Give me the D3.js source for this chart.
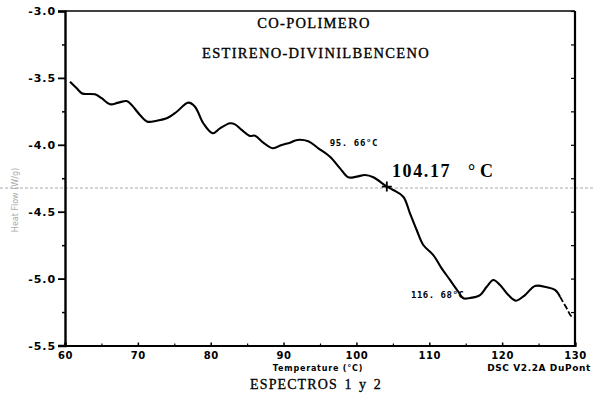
<!DOCTYPE html>
<html>
<head>
<meta charset="utf-8">
<script src="https://cdn.jsdelivr.net/npm/d3@7"></script>
<style>
  html, body { margin: 0; padding: 0; background: #fff; }
  svg { display: block; }
  .tick text { font-family: "DejaVu Sans", sans-serif; font-weight: bold; }
</style>
</head>
<body>
<svg id="chart" width="595" height="393"></svg>
<script>
// DSC thermogram: styrene–divinylbenzene copolymer
const temperature = [60.69, 61.61, 62.29, 62.75, 64.12, 65.04, 66.18, 67.32, 68.47, 69.15,
  70.29, 71.30, 72.59, 73.96, 75.33, 76.92, 77.84, 78.98, 80.27, 81.27,
  82.65, 83.33, 84.25, 85.39, 86.08, 87.22, 88.51, 89.74, 90.88, 91.88,
  93.39, 94.77, 96.37, 97.75, 98.88, 100.04, 101.18, 102.32, 104.17, 105.06,
  106.43, 107.35, 108.27, 109.18, 110.55, 111.70, 112.84, 113.98, 114.67, 115.59,
  116.96, 117.88, 118.79, 119.71, 120.85, 121.90, 123.14, 124.51, 126.12, 127.25,
  127.94, 128.86, 129.55, 130.0];
const heatFlow = [-3.528, -3.578, -3.615, -3.620, -3.623, -3.652, -3.697, -3.685, -3.673, -3.703,
  -3.777, -3.827, -3.820, -3.802, -3.753, -3.685, -3.715, -3.839, -3.914, -3.877,
  -3.839, -3.847, -3.889, -3.934, -3.932, -3.984, -4.026, -4.001, -3.984, -3.964,
  -3.974, -4.026, -4.089, -4.176, -4.243, -4.238, -4.226, -4.243, -4.312, -4.338,
  -4.388, -4.512, -4.637, -4.749, -4.824, -4.923, -5.010, -5.098, -5.147, -5.145,
  -5.123, -5.061, -5.010, -5.048, -5.123, -5.165, -5.123, -5.055, -5.065, -5.085,
  -5.135, -5.222, -5.285, -5.289];
// trace is broken (dashed) past this temperature
const dashedFrom = 127.94;

const yTicks = [-3.0, -3.5, -4.0, -4.5, -5.0, -5.5];
const yMinorTicks = [-3.25, -3.75, -4.25, -4.75, -5.25];
const xTicks = [60, 70, 80, 90, 100, 110, 120, 130];
const xMinorTicks = [65, 75, 85, 95, 105, 115, 125];

// glass transition marker and onset/end labels
const tgTemp = 104.17, tgFlow = -4.312;
const onsetTemp = 95.66, endTemp = 116.68;

const svg = d3.select("#chart");
const x = d3.scaleLinear().domain([60, 130]).range([65, 575]);
const y = d3.scaleLinear().domain([-5.5, -3.0]).range([345.5, 11]);

// faint scan rule through the transition point
svg.append("line")
  .attr("x1", 0).attr("x2", 595)
  .attr("y1", y(tgFlow) + 1.5).attr("y2", y(tgFlow) + 1.5)
  .attr("stroke", "#aaa").attr("stroke-width", 1)
  .attr("stroke-dasharray", "3,2");

// frame
svg.append("line").attr("x1", x(60)).attr("x2", x(130)).attr("y1", y(-3)).attr("y2", y(-3))
  .attr("stroke", "#000").attr("stroke-width", 1.6);
svg.append("line").attr("x1", x(130)).attr("x2", x(130)).attr("y1", y(-3)).attr("y2", y(-5.5))
  .attr("stroke", "#000").attr("stroke-width", 2.2);

// left axis
const yAxis = d3.axisLeft(y).tickValues(yTicks).tickSize(7).tickPadding(2)
  .tickFormat(d3.format(".1f"));
const gy = svg.append("g").attr("transform", `translate(${x(60)},0)`).call(yAxis);
gy.select(".domain").attr("stroke-width", 2.4);
gy.selectAll(".tick line").attr("stroke-width", 1.8);
gy.selectAll(".tick text").attr("font-size", 11).attr("letter-spacing", "0.9px")
  .text(d => d3.format(".1f")(d).replace("−", "-"));

const gyMinor = svg.append("g").attr("transform", `translate(${x(60)},0)`)
  .call(d3.axisLeft(y).tickValues(yMinorTicks).tickSize(3).tickFormat(""));
gyMinor.select(".domain").remove();
gyMinor.selectAll(".tick line").attr("stroke-width", 1.5);

// right axis inner ticks
const gr = svg.append("g").attr("transform", `translate(${x(130)},0)`)
  .call(d3.axisRight(y).tickValues(yTicks.concat(yMinorTicks)).tickSize(-4).tickFormat(""));
gr.select(".domain").remove();
gr.selectAll(".tick line").attr("stroke-width", 1.2);

// bottom axis
const xAxis = d3.axisBottom(x).tickValues(xTicks).tickSize(-3).tickPadding(6);
const gx = svg.append("g").attr("transform", `translate(0,${y(-5.5)})`).call(xAxis);
gx.select(".domain").attr("stroke-width", 2.2);
gx.selectAll(".tick line").attr("stroke-width", 1.5);
gx.selectAll(".tick text").attr("font-size", 10).attr("letter-spacing", "0.6px");
const gxMinor = svg.append("g").attr("transform", `translate(0,${y(-5.5)})`)
  .call(d3.axisBottom(x).tickValues(xMinorTicks).tickSize(-2).tickFormat(""));
gxMinor.select(".domain").remove();
gxMinor.selectAll(".tick line").attr("stroke-width", 1.2);

// trace
const pts = temperature.map((t, i) => [t, heatFlow[i]]);
const line = d3.line().x(d => x(d[0])).y(d => y(d[1])).curve(d3.curveCatmullRom.alpha(0.5));
svg.append("path").datum(pts.filter(d => d[0] <= dashedFrom))
  .attr("d", line).attr("fill", "none").attr("stroke", "#000")
  .attr("stroke-width", 2.1).attr("stroke-linejoin", "round");
svg.append("path").datum(pts.filter(d => d[0] >= dashedFrom))
  .attr("d", line).attr("fill", "none").attr("stroke", "#000")
  .attr("stroke-width", 1.8).attr("stroke-dasharray", "6,2.5");

// transition marker
const cx = x(tgTemp), cy = y(tgFlow);
svg.append("path")
  .attr("d", `M${cx - 5},${cy}H${cx + 5}M${cx},${cy - 5}V${cy + 5}`)
  .attr("stroke", "#000").attr("stroke-width", 1.8);

// labels
const mono = "'DejaVu Sans Mono', monospace";
const serif = "'Liberation Serif', 'DejaVu Serif', serif";
svg.append("text").attr("x", x(onsetTemp) + 5).attr("y", 146)
  .attr("font-family", mono).attr("font-weight", "bold").attr("font-size", 9)
  .attr("letter-spacing", "0.6px").text(`${onsetTemp.toFixed(2).replace(".", ". ")}°C`);
svg.append("text").attr("x", 392).attr("y", 177)
  .attr("font-family", serif).attr("font-weight", "bold").attr("font-size", 18)
  .attr("letter-spacing", "1.6px").text(tgTemp.toFixed(2));
svg.append("text").attr("x", 468).attr("y", 177)
  .attr("font-family", serif).attr("font-weight", "bold").attr("font-size", 18)
  .text("°");
svg.append("text").attr("x", 480).attr("y", 177)
  .attr("font-family", serif).attr("font-weight", "bold").attr("font-size", 18)
  .text("C");
svg.append("text").attr("x", 411).attr("y", 298)
  .attr("font-family", mono).attr("font-weight", "bold").attr("font-size", 9)
  .attr("letter-spacing", "0.5px").text(`${endTemp.toFixed(2).replace(".", ". ")}°C`);

// titles
svg.append("text").attr("x", 314).attr("y", 28).attr("text-anchor", "middle")
  .attr("font-family", serif).attr("font-size", 14.5).attr("letter-spacing", "1.3px")
  .attr("stroke", "#000").attr("stroke-width", 0.35)
  .text("CO-POLIMERO");
svg.append("text").attr("x", 316).attr("y", 58).attr("text-anchor", "middle")
  .attr("font-family", serif).attr("font-size", 14.5).attr("letter-spacing", "1.3px")
  .attr("stroke", "#000").attr("stroke-width", 0.35)
  .text("ESTIRENO-DIVINILBENCENO");

// axis captions
svg.append("text").attr("x", 318).attr("y", 371).attr("text-anchor", "middle")
  .attr("font-family", "'DejaVu Sans', sans-serif").attr("font-weight", "bold")
  .attr("font-size", 8).attr("letter-spacing", "0.8px").text("Temperature (°C)");
svg.append("text").attr("x", 539).attr("y", 371).attr("text-anchor", "middle")
  .attr("font-family", "'DejaVu Sans', sans-serif").attr("font-weight", "bold")
  .attr("font-size", 9).attr("letter-spacing", "0.6px").text("DSC V2.2A DuPont");
svg.append("text").attr("x", 316).attr("y", 389).attr("text-anchor", "middle")
  .attr("font-family", serif).attr("font-size", 14).attr("letter-spacing", "1.1px")
  .attr("word-spacing", "2px").attr("stroke", "#000").attr("stroke-width", 0.3)
  .text("ESPECTROS 1 y 2");
svg.append("text").attr("transform", "translate(18,200) rotate(-90)").attr("text-anchor", "middle")
  .attr("font-family", "'DejaVu Sans', sans-serif").attr("font-size", 8).attr("fill", "#aaa")
  .text("Heat Flow (W/g)");
</script>
</body>
</html>
